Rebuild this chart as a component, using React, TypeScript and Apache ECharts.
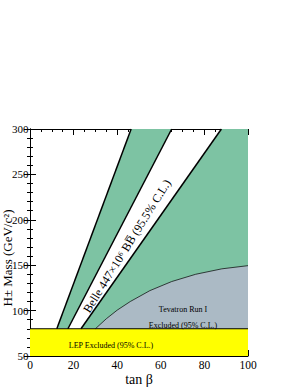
import React, { useEffect, useRef } from "react";
import * as echarts from "echarts";

const xTicks = [0, 20, 40, 60, 80, 100];
const yTicks = [50, 100, 150, 200, 250, 300];
const line1: number[][] = [[12.3, 80], [46.4, 300]];
const line2: number[][] = [[17.4, 80], [65.0, 300]];
const line3: number[][] = [[23.4, 80], [87.8, 300]];
const tevatron: number[][] = [
  [30, 80], [35, 91], [40, 100.5], [46, 110], [55, 122], [65, 132], [76, 140], [88, 146], [100, 149.5],
];
const lepLimit = 80;
const yMin = 50;
const yMax = 300;
const xMax = 100;

const FONT = "'Liberation Serif', 'DejaVu Serif', serif";
const GREEN = "#7dc3a3";
const GRAY = "#abbac5";
const YELLOW = "#ffff00";

function polySeries(points: number[][], color: string, z: number) {
  return {
    type: "custom",
    z,
    silent: true,
    data: [0],
    renderItem: (_params: any, api: any) => ({
      type: "polygon",
      shape: { points: points.map((p) => api.coord(p)) },
      style: { fill: color, stroke: "none" },
    }),
  };
}

function lineSeries(points: number[][], width: number, z: number) {
  return {
    type: "line",
    z,
    silent: true,
    symbol: "none",
    data: points,
    lineStyle: { color: "#000", width },
  };
}

export default function App() {
  const ref = useRef<HTMLDivElement>(null);
  useEffect(() => {
    if (!ref.current) return;
    const chart = echarts.init(ref.current, null, { renderer: "svg" });
    const greenBand = [...line1, ...[...line2].reverse()];
    const greenRight = [...line3, [xMax, yMax], [xMax, lepLimit]];
    const grayRegion = [...tevatron, [xMax, lepLimit]];
    const lep = [[0, yMin], [0, lepLimit], [xMax, lepLimit], [xMax, yMin]];
    const axisCommon = {
      type: "value",
      axisLine: { show: true, lineStyle: { color: "#000", width: 1 } },
      axisTick: { show: true, inside: true, length: 6, lineStyle: { color: "#000" } },
      minorTick: { show: true, length: 3, lineStyle: { color: "#000" } },
      splitLine: { show: false },
    };
    chart.setOption({
      animation: false,
      grid: { left: 30, right: 52, top: 129, bottom: 32 },
      xAxis: [
        {
          ...axisCommon,
          min: 0, max: xMax, interval: 20,
          minorTick: { ...axisCommon.minorTick, splitNumber: 4 },
          axisLabel: {
            color: "#000", fontFamily: FONT, fontSize: 11.5, margin: 3,
            formatter: (v: number) => (xTicks.includes(v) ? String(v) : ""),
          },
        },
        {
          ...axisCommon,
          position: "top",
          min: 0, max: xMax, interval: 20,
          minorTick: { ...axisCommon.minorTick, splitNumber: 4 },
          axisLabel: { show: false },
        },
      ],
      yAxis: [
        {
          ...axisCommon,
          min: yMin, max: yMax, interval: 50,
          minorTick: { ...axisCommon.minorTick, splitNumber: 5 },
          axisLabel: {
            color: "#000", fontFamily: FONT, fontSize: 11, margin: 1.5,
            formatter: (v: number) => (yTicks.includes(v) ? String(v) : ""),
          },
        },
        {
          ...axisCommon,
          position: "right",
          min: yMin, max: yMax, interval: 50,
          minorTick: { ...axisCommon.minorTick, splitNumber: 5 },
          axisLabel: { show: false },
        },
      ],
      series: [
        polySeries(greenBand, GREEN, 1),
        polySeries(greenRight, GREEN, 1),
        polySeries(grayRegion, GRAY, 2),
        polySeries(lep, YELLOW, 3),
        lineSeries(line1, 1.5, 5),
        lineSeries(line2, 1.5, 5),
        lineSeries(line3, 1.5, 5),
        lineSeries(tevatron, 0.7, 4),
        lineSeries([[0, lepLimit], [xMax, lepLimit]], 1, 5),
      ],
      graphic: [
        {
          type: "text", x: 127, y: 246, rotation: (58 * Math.PI) / 180, z: 100,
          style: {
            text: "Belle 447×10⁶ BB\u0305 (95.5% C.L.)",
            font: `12px ${FONT}`, fill: "#000", align: "center", verticalAlign: "middle",
          },
        },
        {
          type: "text", x: 183, y: 309, z: 100,
          style: { text: "Tevatron Run I", font: `8px ${FONT}`, fill: "#000", align: "center", verticalAlign: "middle" },
        },
        {
          type: "text", x: 183, y: 325, z: 100,
          style: { text: "Excluded (95% C.L.)", font: `8px ${FONT}`, fill: "#000", align: "center", verticalAlign: "middle" },
        },
        {
          type: "text", x: 111, y: 345, z: 100,
          style: { text: "LEP Excluded (95% C.L.)", font: `8px ${FONT}`, fill: "#000", align: "center", verticalAlign: "middle" },
        },
        {
          type: "text", x: 7, y: 258, rotation: Math.PI / 2, z: 100,
          style: { text: "H± Mass (GeV/c²)", font: `13px ${FONT}`, fill: "#000", align: "center", verticalAlign: "middle" },
        },
        {
          type: "text", x: 139, y: 379, z: 100,
          style: { text: "tan β", font: `14px ${FONT}`, fill: "#000", align: "center", verticalAlign: "middle" },
        },
      ],
    });
    return () => chart.dispose();
  }, []);
  return <div ref={ref} style={{ width: 300, height: 388, position: "absolute", left: 0, top: 0 }} />;
}
